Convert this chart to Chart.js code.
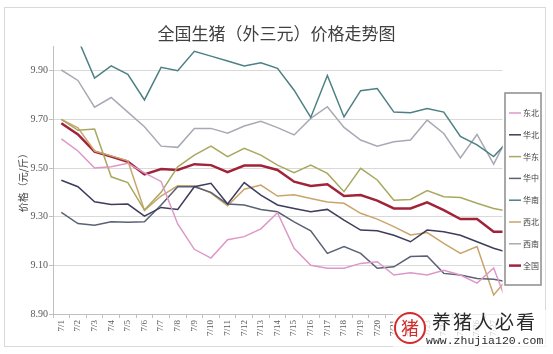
<!DOCTYPE html>
<html>
<head>
<meta charset="utf-8">
<script src="https://cdn.jsdelivr.net/npm/chart.js@4.4.1/dist/chart.umd.min.js"></script>
<style>
  html, body { margin: 0; padding: 0; background: #fff; }
</style>
</head>
<body>
<canvas id="chart" width="553" height="354"></canvas>
<script>
// dates on the x axis
const days = ['7/1', '7/2', '7/3', '7/4', '7/5', '7/6', '7/7', '7/8', '7/9', '7/10',
  '7/11', '7/12', '7/13', '7/14', '7/15', '7/16', '7/17', '7/18', '7/19', '7/20',
  '7/21', '7/22', '7/23', '7/24', '7/25', '7/26', '7/27', '7/28'];

// price per region, yuan per jin
const dongbei = [9.62, 9.57, 9.50, 9.505, 9.52, 9.48, 9.445, 9.27, 9.166, 9.13, 9.205, 9.218, 9.25, 9.316,
  9.17, 9.10, 9.088, 9.088, 9.108, 9.115, 9.06, 9.07, 9.06, 9.08, 9.06, 9.027, 9.089, 8.91];
const huabei = [9.45, 9.423, 9.361, 9.35, 9.352, 9.302, 9.338, 9.33, 9.423, 9.437, 9.352, 9.44, 9.389, 9.348,
  9.334, 9.32, 9.33, 9.286, 9.245, 9.242, 9.224, 9.197, 9.245, 9.238, 9.224, 9.197, 9.17, 9.15];
const huadong = [9.70, 9.655, 9.66, 9.464, 9.44, 9.327, 9.40, 9.505, 9.553, 9.59, 9.547, 9.581, 9.553, 9.512,
  9.481, 9.512, 9.478, 9.403, 9.499, 9.451, 9.368, 9.371, 9.407, 9.382, 9.379, 9.355, 9.334, 9.32];
const huazhong = [9.318, 9.272, 9.265, 9.279, 9.277, 9.279, 9.348, 9.423, 9.423, 9.40, 9.352, 9.348, 9.33, 9.32,
  9.279, 9.242, 9.149, 9.177, 9.149, 9.088, 9.094, 9.136, 9.138, 9.067, 9.06, 9.046, 9.043, 9.03];
const huanan = [null, 10.03, 9.87, 9.92, 9.885, 9.78, 9.914, 9.90, 9.98, 9.96, 9.94, 9.92, 9.933, 9.91,
  9.82, 9.708, 9.88, 9.71, 9.818, 9.827, 9.73, 9.727, 9.745, 9.73, 9.63, 9.595, 9.547, 9.62];
const xibei = [9.70, 9.665, 9.57, 9.55, 9.53, 9.326, 9.385, 9.427, 9.427, 9.397, 9.345, 9.413, 9.43, 9.385,
  9.39, 9.375, 9.36, 9.355, 9.314, 9.29, 9.259, 9.225, 9.235, 9.19, 9.149, 9.177, 8.978, 9.06];
const xinan = [9.903, 9.86, 9.75, 9.79, 9.73, 9.67, 9.59, 9.585, 9.663, 9.663, 9.643, 9.673, 9.692, 9.666,
  9.636, 9.704, 9.752, 9.667, 9.615, 9.59, 9.608, 9.615, 9.697, 9.642, 9.542, 9.638, 9.516, 9.65];
const quanguo = [9.684, 9.638, 9.567, 9.547, 9.526, 9.474, 9.496, 9.492, 9.516, 9.512, 9.483, 9.51, 9.51, 9.492,
  9.444, 9.426, 9.433, 9.385, 9.389, 9.366, 9.334, 9.334, 9.359, 9.327, 9.29, 9.29, 9.238, 9.238];

const yTicks = [8.9, 9.1, 9.3, 9.5, 9.7, 9.9];

const cjk = '"Noto Sans CJK SC", sans-serif';
const serif = '"Liberation Serif", serif';

function series(label, data, color, width) {
  return { label, data, borderColor: color, backgroundColor: color, borderWidth: width || 1.5 };
}

// clips the plot at the legend edge, then draws legend, frame and watermark
const framePlugin = {
  id: 'frame',
  beforeDraw(chart) {
    const ctx = chart.ctx;
    ctx.save();
    ctx.beginPath();
    ctx.rect(0, 0, 502.5, chart.height);
    ctx.clip();
  },
  afterDraw(chart) {
    const ctx = chart.ctx;
    ctx.restore();

    // legend box
    ctx.save();
    ctx.fillStyle = '#fff';
    ctx.fillRect(505, 93, 36, 192);
    ctx.strokeStyle = '#8c8c8c';
    ctx.lineWidth = 1.5;
    ctx.strokeRect(505, 93, 36, 192);
    ctx.font = '8px ' + cjk;
    ctx.textBaseline = 'middle';
    chart.data.datasets.forEach((ds, i) => {
      const y = 113 + i * 21.8;
      ctx.strokeStyle = ds.borderColor;
      ctx.lineWidth = ds.borderWidth;
      ctx.beginPath();
      ctx.moveTo(509, y);
      ctx.lineTo(521, y);
      ctx.stroke();
      ctx.fillStyle = '#404040';
      ctx.fillText(ds.label, 523, y);
    });

    // outer frame
    ctx.strokeStyle = '#d9d9d9';
    ctx.lineWidth = 1;
    ctx.strokeRect(4.5, 7.5, 541, 339);

    // watermark
    ctx.fillStyle = 'rgba(255,255,255,0.7)';
    ctx.fillRect(393, 310, 155, 40);
    ctx.strokeStyle = '#d52b2b';
    ctx.lineWidth = 2;
    ctx.beginPath();
    ctx.arc(410, 328, 15, 0, Math.PI * 2);
    ctx.stroke();
    ctx.fillStyle = '#d52b2b';
    ctx.font = '18px ' + cjk;
    ctx.textAlign = 'center';
    ctx.fillText('猪', 410, 328);
    ctx.textAlign = 'left';
    ctx.fillStyle = '#2b2b2b';
    ctx.font = '19px ' + cjk;
    ctx.letterSpacing = '2px';
    ctx.fillText('养猪人必看', 432, 322);
    ctx.letterSpacing = '0px';
    ctx.font = '11.5px "Liberation Mono", monospace';
    ctx.fillText('www.zhujia120.com', 426, 341);
    ctx.restore();
  }
};

new Chart(document.getElementById('chart'), {
  type: 'line',
  data: {
    labels: days,
    datasets: [
      series('东北', dongbei, '#dd97c8'),
      series('华北', huabei, '#3d3d5c'),
      series('华东', huadong, '#a8a85e'),
      series('华中', huazhong, '#5a6174'),
      series('华南', huanan, '#4c8084'),
      series('西北', xibei, '#c9a46b'),
      series('西南', xinan, '#a9a9b5'),
      series('全国', quanguo, '#a1233a', 2.5)
    ]
  },
  options: {
    responsive: false,
    animation: false,
    events: [],
    layout: { padding: 0 },
    elements: { point: { radius: 0 }, line: { tension: 0 } },
    plugins: {
      legend: { display: false },
      tooltip: { enabled: false },
      title: {
        display: true,
        text: '全国生猪（外三元）价格走势图',
        color: '#404040',
        font: { family: cjk, size: 17, weight: 'normal' },
        padding: { top: 23, bottom: 3 }
      }
    },
    scales: {
      x: {
        offset: true,
        grid: { drawOnChartArea: false, offset: true, tickLength: 4, color: '#bfbfbf' },
        border: { color: '#bfbfbf' },
        ticks: {
          autoSkip: false, minRotation: 90, maxRotation: 90, padding: 2,
          color: '#595959', font: { family: serif, size: 9 }
        },
        afterFit(scale) { scale.height = 40; }
      },
      y: {
        min: 8.9,
        max: 10.0,
        afterBuildTicks(scale) { scale.ticks = yTicks.map(v => ({ value: v })); },
        grid: { color: '#d9d9d9', tickColor: '#bfbfbf', tickLength: 4 },
        border: { color: '#bfbfbf' },
        ticks: {
          padding: 1, color: '#595959', font: { family: serif, size: 10 },
          callback: v => v.toFixed(2)
        },
        title: {
          display: true, text: '价格（元/斤）', color: '#404040',
          font: { family: cjk, size: 10 }, padding: { top: 17, bottom: 0 }
        },
        afterFit(scale) { scale.width = 53; }
      },
      // empty right-hand axis: reserves the strip under the legend
      side: {
        position: 'right',
        grid: { display: false },
        border: { display: false },
        ticks: { display: false },
        afterFit(scale) { scale.width = 34.4; }
      }
    }
  },
  plugins: [framePlugin]
});
</script>
</body>
</html>
